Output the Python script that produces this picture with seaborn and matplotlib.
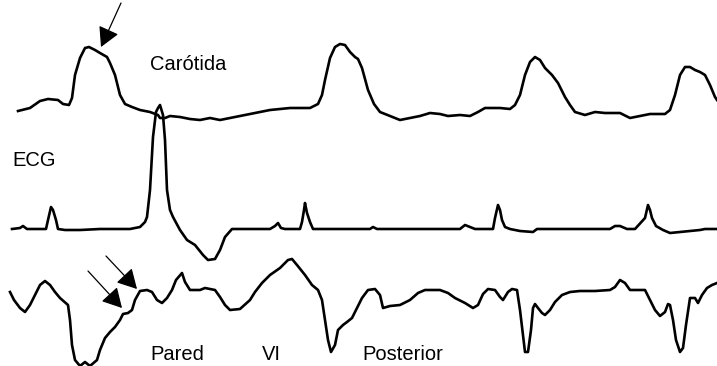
import matplotlib
matplotlib.use("Agg")
import matplotlib.pyplot as plt
import seaborn as sns
import pandas as pd

# Carotid pulse trace (x, y in image units; y grows downward)
carotid_x = [18, 30, 40, 48, 58, 63, 69, 72, 75, 80, 85, 89, 95, 100, 107, 110, 115, 120, 125, 132,
             140, 150, 158, 160, 165, 170, 180, 190, 200, 210, 220, 230, 240, 250, 260, 270, 280, 290,
             300, 310, 318, 322, 325, 330, 335, 340, 345, 350, 355, 358, 362, 368, 374, 380, 390, 400,
             410, 420, 430, 440, 448, 460, 470, 478, 485, 500, 510, 515, 520, 525, 530, 535, 540, 545,
             552, 558, 565, 570, 575, 585, 595, 605, 620, 630, 640, 650, 665, 670, 675, 680, 685, 690,
             695, 700, 705, 710, 715, 717]
carotid_y = [111, 108, 101, 99, 100, 104, 105, 98, 75, 58, 48, 47, 50, 53, 57, 63, 75, 95, 104, 107,
             110, 112, 115, 118, 118, 116, 117, 119, 120, 118, 120, 118, 116, 114, 112, 110, 109, 108,
             108, 108, 104, 95, 80, 58, 47, 44, 45, 52, 57, 59, 68, 90, 104, 112, 116, 120,
             118, 116, 113, 114, 116, 115, 116, 112, 108, 108, 109, 105, 95, 75, 62, 57, 60, 68,
             75, 83, 97, 105, 112, 115, 112, 113, 113, 118, 116, 114, 114, 110, 95, 75, 67, 67,
             70, 72, 75, 85, 97, 100]

# ECG trace
ecg_x = [12, 20, 23, 27, 46, 48, 51, 53, 56, 58, 65, 80, 100, 130, 140, 145, 147, 150, 153, 156, 158,
         160, 163, 165, 167, 170, 173, 180, 187, 195, 203, 208, 215, 220, 225, 232, 240, 270, 275, 278,
         281, 285, 300, 302, 304, 305, 307, 310, 313, 330, 370, 373, 377, 460, 465, 470, 475, 493,
         495, 498, 500, 502, 505, 510, 520, 533, 537, 610, 615, 620, 627, 635, 645, 648, 650, 652,
         656, 663, 670, 680, 700, 705, 717]
ecg_y = [229, 228, 226, 229, 229, 220, 207, 210, 220, 229, 230, 230, 229, 229, 227, 222, 217, 190, 137, 112, 108,
         105, 115, 140, 190, 210, 217, 230, 240, 245, 255, 260, 259, 250, 237, 229, 229, 229, 226, 223,
         228, 229, 229, 222, 210, 203, 213, 222, 229, 229, 229, 227, 229, 229, 225, 227, 229, 229,
         218, 205, 210, 220, 227, 229, 231, 232, 229, 229, 226, 226, 229, 229, 218, 205, 210, 218,
         226, 230, 233, 232, 230, 229, 229]

# Posterior left-ventricular wall trace
wall_x = [10, 14, 20, 25, 30, 35, 40, 45, 50, 55, 60, 68, 70, 72, 75, 80, 85, 90, 97, 100, 105, 110,
          115, 120, 123, 128, 132, 135, 140, 147, 152, 157, 162, 167, 172, 176, 182, 185, 190, 200, 205,
          215, 220, 225, 230, 240, 250, 255, 262, 270, 280, 288, 292, 297, 305, 312, 318, 322, 325,
          328, 331, 335, 338, 343, 347, 352, 358, 362, 368, 375, 380, 383, 390, 400, 410, 418, 425,
          440, 448, 455, 465, 473, 478, 483, 488, 495, 500, 503, 508, 512, 517, 520, 523, 525, 528,
          531, 533, 535, 538, 542, 545, 550, 555, 562, 570, 580, 595, 610, 615, 620, 625, 630, 645,
          650, 655, 660, 665, 668, 670, 673, 676, 680, 683, 686, 690, 695, 698, 702, 707, 712, 717]
wall_y = [292, 300, 308, 312, 305, 295, 285, 281, 285, 292, 298, 305, 320, 345, 360, 366, 362, 366, 360, 350, 338, 332,
          327, 320, 314, 313, 310, 300, 291, 290, 292, 300, 303, 298, 290, 280, 273, 282, 290, 290, 288,
          290, 297, 305, 310, 309, 300, 292, 283, 275, 268, 260, 259, 265, 275, 285, 290, 300, 320,
          340, 352, 345, 330, 325, 322, 318, 306, 298, 290, 289, 295, 308, 306, 305, 300, 293, 290,
          290, 293, 298, 303, 308, 305, 294, 289, 290, 297, 300, 292, 289, 290, 310, 335, 352, 352,
          330, 308, 304, 308, 313, 315, 310, 302, 295, 292, 291, 291, 290, 287, 280, 283, 290, 290,
          300, 310, 316, 312, 304, 305, 320, 340, 352, 348, 325, 298, 298, 303, 295, 288, 285, 283]

labels = ["Carótida", "ECG", "Pared", "VI", "Posterior"]
label_x = [150, 12, 150, 262, 362]
label_y = [65, 160, 355, 355, 355]

fig = plt.figure(figsize=(7.17, 3.66), dpi=100)
ax = fig.add_axes([0, 0, 1, 1])

for xs, ys in [(carotid_x, carotid_y), (ecg_x, ecg_y), (wall_x, wall_y)]:
    df = pd.DataFrame({"x": xs, "y": ys})
    sns.lineplot(data=df, x="x", y="y", sort=False, estimator=None, color="black",
                 linewidth=1.9, ax=ax)

ax.set_xlim(0, 717)
ax.set_ylim(366, 0)
ax.axis("off")

font = ["Liberation Sans", "DejaVu Sans"]
for t, x, y in zip(labels, label_x, label_y):
    ax.text(x, y, t, fontsize=14.5, family=font, va="center", ha="left", color="black")

# arrows: (start, tip)
arrows = [((121, 3), (101, 47)), ((106, 256), (137, 289)), ((88, 271), (122, 308))]
for (sx, sy), (tx, ty) in arrows:
    ax.annotate("", xy=(tx, ty), xytext=(sx, sy),
                arrowprops=dict(arrowstyle="-|>,head_length=1.0,head_width=0.55",
                                mutation_scale=12, color="black", lw=0.9,
                                shrinkA=0, shrinkB=0))

fig.savefig("out.png", dpi=100)
